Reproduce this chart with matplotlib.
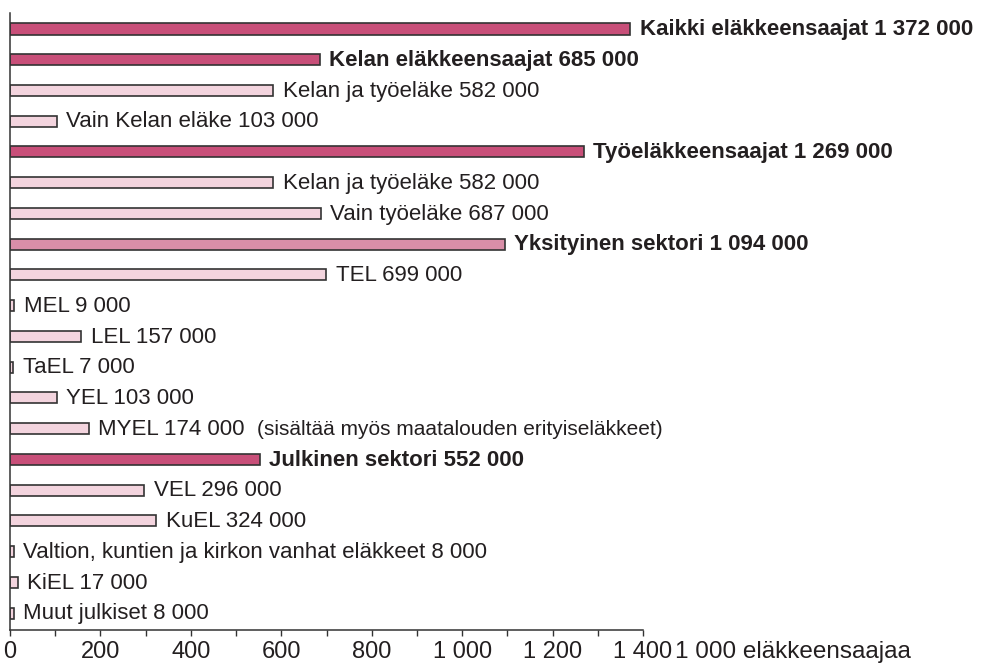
import matplotlib.pyplot as plt
from matplotlib.ticker import MultipleLocator, FuncFormatter

plt.rcParams['font.family'] = ['Liberation Sans', 'DejaVu Sans']

labels = [
    'Kaikki eläkkeensaajat 1 372 000',
    'Kelan eläkkeensaajat 685 000',
    'Kelan ja työeläke 582 000',
    'Vain Kelan eläke 103 000',
    'Työeläkkeensaajat 1 269 000',
    'Kelan ja työeläke 582 000',
    'Vain työeläke 687 000',
    'Yksityinen sektori 1 094 000',
    'TEL 699 000',
    'MEL 9 000',
    'LEL 157 000',
    'TaEL 7 000',
    'YEL 103 000',
    'MYEL 174 000',
    'Julkinen sektori 552 000',
    'VEL 296 000',
    'KuEL 324 000',
    'Valtion, kuntien ja kirkon vanhat eläkkeet 8 000',
    'KiEL 17 000',
    'Muut julkiset 8 000',
]
values = [1372, 685, 582, 103, 1269, 582, 687, 1094, 699, 9, 157, 7, 103, 174,
          552, 296, 324, 8, 17, 8]
# 'main' = dark bold, 'sector' = mid bold, 'sub' = light
kinds = ['main', 'main', 'sub', 'sub', 'main', 'sub', 'sub', 'sector', 'sub', 'sub',
         'sub', 'sub', 'sub', 'sub', 'main', 'sub', 'sub', 'sub', 'sub', 'sub']
note_row = 13
note_text = '(sisältää myös maatalouden erityiseläkkeet)'

colors = {'main': '#C84F79', 'sector': '#D98EA8', 'sub': '#F3D4DE'}

fig = plt.figure(figsize=(9.83, 6.63), dpi=100)
ax = fig.add_axes([10 / 983, 1 - 630 / 663, 633 / 983, 617 / 663])

ypos = list(range(len(values)))
ax.barh(ypos, values, height=0.36, color=[colors[k] for k in kinds],
        edgecolor='#333333', linewidth=1.2)

for i, (v, lab, k) in enumerate(zip(values, labels, kinds)):
    t = ax.annotate(lab, xy=(v, i), xytext=(7, -0.5), textcoords='offset points',
                    va='center', ha='left', fontsize=16, color='#231F20',
                    fontweight='bold' if k != 'sub' else 'normal')
    if i == note_row:
        ax.annotate(note_text, xy=(1, 0.5), xycoords=t, xytext=(9, 0),
                    textcoords='offset points', va='center', ha='left',
                    fontsize=15, color='#231F20')

ax.set_xlim(0, 1400)
ax.set_ylim(len(values) - 0.45, -0.52)
ax.xaxis.set_major_locator(MultipleLocator(200))
ax.xaxis.set_minor_locator(MultipleLocator(100))
ax.xaxis.set_major_formatter(FuncFormatter(lambda x, p: f'{int(x):,}'.replace(',', ' ')))
ax.tick_params(axis='x', which='both', direction='out', length=4, width=1,
               color='#333333', labelsize=17, labelcolor='#231F20', pad=4)
ax.set_yticks([])
for s in ['top', 'right']:
    ax.spines[s].set_visible(False)
for s in ['left', 'bottom']:
    ax.spines[s].set_color('#333333')
    ax.spines[s].set_linewidth(1.1)

ax.annotate('1 000 eläkkeensaajaa', xy=(1, 0), xycoords='axes fraction',
            xytext=(23, -8), textcoords='offset points', va='top', ha='left',
            fontsize=17.5, color='#231F20')

fig.savefig('out.png', dpi=100)
